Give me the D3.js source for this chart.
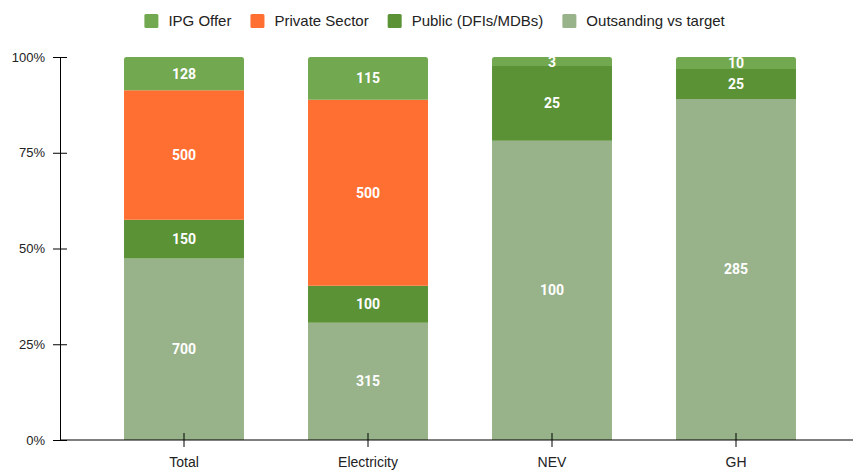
<!DOCTYPE html>
<html>
<head>
<meta charset="utf-8">
<script src="https://cdn.jsdelivr.net/npm/d3@7"></script>
<style>
  html, body { margin: 0; padding: 0; background: #fff; }
  svg { display: block; }
</style>
</head>
<body>
<svg id="chart" width="853" height="470"></svg>
<script>
// Categories and stacked series (absolute amounts, shown as share of each bar)
const categories = ["Total", "Electricity", "NEV", "GH"];
const seriesNames = ["Outsanding vs target", "Public (DFIs/MDBs)", "Private Sector", "IPG Offer"];
const outstanding = [700, 315, 100, 285];
const publicDfi   = [150, 100, 25, 25];
const privateSec  = [500, 500, 0, 0];
const ipgOffer    = [128, 115, 3, 10];
const yTicks = [0, 0.25, 0.5, 0.75, 1];
const legendOrder = ["IPG Offer", "Private Sector", "Public (DFIs/MDBs)", "Outsanding vs target"];

const colors = {
  "IPG Offer": "#72a84f",
  "Private Sector": "#ff6f31",
  "Public (DFIs/MDBs)": "#5b9236",
  "Outsanding vs target": "#98b38a"
};

const valuesBySeries = {
  "Outsanding vs target": outstanding,
  "Public (DFIs/MDBs)": publicDfi,
  "Private Sector": privateSec,
  "IPG Offer": ipgOffer
};

const rows = categories.map((c, i) => {
  const r = { category: c };
  seriesNames.forEach(s => r[s] = valuesBySeries[s][i]);
  return r;
});

const stacked = d3.stack()
  .keys(seriesNames)
  .offset(d3.stackOffsetExpand)(rows);

const svg = d3.select("#chart");

const x = d3.scaleBand()
  .domain(categories)
  .range([92, 828])
  .paddingInner(0.348)
  .paddingOuter(0.174);

const y = d3.scaleLinear().domain([0, 1]).range([440, 57]);

// Top segment of each bar gets rounded upper corners
function topRoundedRect(x0, y0, w, h, r) {
  r = Math.min(r, h, w / 2);
  return `M${x0},${y0 + h}V${y0 + r}Q${x0},${y0} ${x0 + r},${y0}` +
         `H${x0 + w - r}Q${x0 + w},${y0} ${x0 + w},${y0 + r}V${y0 + h}Z`;
}

const topIndex = categories.map((c, i) => {
  let t = -1;
  seriesNames.forEach((s, k) => { if (valuesBySeries[s][i] > 0) t = k; });
  return t;
});

const layers = svg.append("g").selectAll("g")
  .data(stacked)
  .join("g")
  .attr("fill", d => colors[d.key]);

layers.selectAll("path")
  .data((d, k) => d.map((seg, i) => ({ seg, i, k, key: d.key })))
  .join("path")
  .filter(d => d.seg[1] - d.seg[0] > 0)
  .attr("d", d => {
    const x0 = x(categories[d.i]);
    const y0 = y(d.seg[1]);
    const h = y(d.seg[0]) - y(d.seg[1]);
    const r = topIndex[d.i] === d.k ? 2.5 : 0;
    return topRoundedRect(x0, y0, x.bandwidth(), h, r);
  });

// Value labels
const labelData = [];
stacked.forEach((layer, k) => {
  layer.forEach((seg, i) => {
    const v = valuesBySeries[layer.key][i];
    if (v > 0) labelData.push({ i, v, mid: (seg[0] + seg[1]) / 2 });
  });
});

svg.append("g").selectAll("text")
  .data(labelData)
  .join("text")
  .attr("x", d => x(categories[d.i]) + x.bandwidth() / 2)
  .attr("y", d => y(d.mid))
  .attr("dy", "0.36em")
  .attr("text-anchor", "middle")
  .attr("fill", "#ffffff")
  .attr("font-family", "Roboto, 'Noto Sans', sans-serif")
  .attr("font-weight", "bold")
  .attr("font-size", 14)
  .text(d => d.v);

// Axes
const yAxis = d3.axisLeft(y)
  .tickValues(yTicks)
  .tickFormat(d3.format(".0%"))
  .tickSizeInner(7)
  .tickSizeOuter(0)
  .tickPadding(8);

const yg = svg.append("g").attr("transform", "translate(60,0)").call(yAxis);
yg.select(".domain").attr("stroke", "#000");
yg.selectAll(".tick line").attr("x1", -7).attr("x2", 7).attr("stroke", "#000");
yg.selectAll(".tick text")
  .attr("font-family", "'Liberation Sans', Arial, sans-serif")
  .attr("font-size", 13)
  .attr("fill", "#222");

const xAxis = d3.axisBottom(x).tickSizeInner(7).tickSizeOuter(0).tickPadding(10);
const xg = svg.append("g").attr("transform", "translate(0,440)").call(xAxis);
xg.select(".domain").attr("d", "M60,0H853").attr("stroke", "#000");
xg.selectAll(".tick line").attr("y1", -7).attr("y2", 7).attr("stroke", "#000");
xg.selectAll(".tick text")
  .attr("font-family", "'Liberation Sans', Arial, sans-serif")
  .attr("font-size", 14)
  .attr("fill", "#222");

// Legend
const legend = svg.append("g").attr("font-family", "'Liberation Sans', Arial, sans-serif");
const items = legend.selectAll("g").data(legendOrder).join("g");
items.append("rect")
  .attr("width", 14).attr("height", 14).attr("rx", 1.5)
  .attr("y", 14)
  .attr("fill", d => colors[d]);
items.append("text")
  .attr("x", 24).attr("y", 21).attr("dy", "0.35em")
  .attr("font-size", 15).attr("fill", "#222")
  .text(d => d);

let cursor = 0;
const widths = [];
items.each(function () {
  widths.push(this.getBBox().width);
});
const gap = 19;
const total = d3.sum(widths) + gap * (widths.length - 1);
cursor = 435 - total / 2;
items.each(function (d, i) {
  d3.select(this).attr("transform", `translate(${cursor},0)`);
  cursor += widths[i] + gap;
});
</script>
</body>
</html>
